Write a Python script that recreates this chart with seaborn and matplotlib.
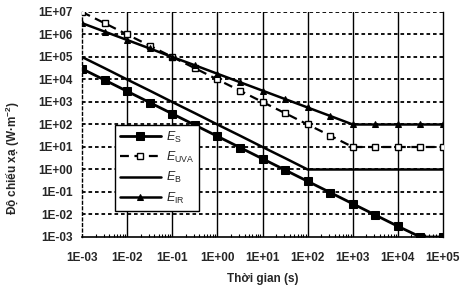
import numpy as np
import pandas as pd
import matplotlib
matplotlib.use("Agg")
import matplotlib.pyplot as plt
import seaborn as sns

# Data (time in s, irradiance in W/m^2)
time_s = [1e-3, 3.16e-3, 1e-2, 3.16e-2, 1e-1, 3.16e-1, 1e0, 3.16e0, 1e1, 3.16e1,
          1e2, 3.16e2, 1e3, 3.16e3, 1e4, 3.16e4, 1e5]
E_S = [3e4, 9.5e3, 3e3, 950, 300, 95, 30, 9.5, 3, 0.95,
       0.3, 0.095, 0.03, 0.0095, 0.003, 0.001, 0.001]
E_UVA = [1e7, 3.2e6, 1e6, 3.2e5, 1e5, 3.2e4, 1e4, 3.2e3, 1e3, 320,
         100, 32, 10, 10, 10, 10, 10]
E_B = [1e5, 3.2e4, 1e4, 3.2e3, 1e3, 320, 100, 32, 10, 3.2,
       1, 1, 1, 1, 1, 1, 1]
E_IR = [3.2e6, 1.35e6, 5.7e5, 2.4e5, 1e5, 4.3e4, 1.8e4, 7.6e3, 3.2e3, 1.35e3,
        570, 240, 100, 100, 100, 100, 100]

x_ticks = [1e-3, 1e-2, 1e-1, 1e0, 1e1, 1e2, 1e3, 1e4, 1e5]
x_tick_labels = ["1E-03", "1E-02", "1E-01", "1E+00", "1E+01", "1E+02", "1E+03", "1E+04", "1E+05"]
y_ticks = [1e-3, 1e-2, 1e-1, 1e0, 1e1, 1e2, 1e3, 1e4, 1e5, 1e6, 1e7]
y_tick_labels = ["1E-03", "1E-02", "1E-01", "1E+00", "1E+01", "1E+02", "1E+03",
                 "1E+04", "1E+05", "1E+06", "1E+07"]

sns.set_theme(style="white")
plt.rcParams['font.family'] = ['Liberation Sans', 'DejaVu Sans']
plt.rcParams['mathtext.fontset'] = 'custom'
plt.rcParams['mathtext.it'] = 'Liberation Sans:italic'
plt.rcParams['mathtext.rm'] = 'Liberation Sans'
plt.rcParams['mathtext.bf'] = 'Liberation Sans:bold'

fig = plt.figure(figsize=(4.72, 2.88), dpi=100)
ax = fig.add_axes([82/472, 1-237/288, (443-82)/472, (237-12)/288])

df = pd.DataFrame({"t": time_s, "ES": E_S, "EUVA": E_UVA, "EB": E_B, "EIR": E_IR})

sns.lineplot(data=df, x="t", y="ES", ax=ax, color="black", lw=2.0, marker="s",
             markersize=5.5, markerfacecolor="black", markeredgecolor="black",
             label=r"$E_\mathrm{S}$", zorder=5)
sns.lineplot(data=df, x="t", y="EUVA", ax=ax, color="black", lw=1.6, marker="s",
             markersize=5, markerfacecolor="white", markeredgecolor="black",
             markeredgewidth=1.0, dashes=(4, 2.5), label=r"$E_\mathrm{UVA}$", zorder=5)
sns.lineplot(data=df, x="t", y="EB", ax=ax, color="black", lw=1.8,
             label=r"$E_\mathrm{B}$", zorder=5)
sns.lineplot(data=df, x="t", y="EIR", ax=ax, color="black", lw=1.8, marker="^",
             markersize=5, markerfacecolor="black", markeredgecolor="black",
             label=r"$E_\mathrm{IR}$", zorder=5)

ax.set_xscale("log")
ax.set_yscale("log")
ax.set_xlim(1e-3, 1e5)
ax.set_ylim(1e-3, 1e7)

# grid: solid verticals, dashed horizontals
for xv in x_ticks[1:-1]:
    ax.axvline(xv, color="black", lw=1.0, zorder=1)
for yv in y_ticks[1:]:
    ax.axhline(yv, color="black", lw=1.3, ls=(0, (2, 1.6)), zorder=1)

ax.set_xticks(x_ticks)
ax.set_xticklabels(x_tick_labels)
ax.set_yticks(y_ticks)
ax.set_yticklabels(y_tick_labels)
ax.yaxis.set_minor_locator(matplotlib.ticker.NullLocator())
ax.xaxis.set_minor_locator(matplotlib.ticker.LogLocator(base=10, subs=np.arange(2, 10)))
ax.tick_params(axis="x", which="major", length=0, labelsize=8.5, pad=11)
ax.tick_params(axis="x", which="minor", direction="in", length=2.5, width=0.8,
               bottom=True, color="black")
ax.tick_params(axis="y", which="major", length=0, labelsize=8.5, pad=6.5)
for lab in ax.get_xticklabels() + ax.get_yticklabels():
    lab.set_fontweight("bold")

ax.spines["top"].set_visible(False)
ax.spines["left"].set_linestyle((0, (2, 2)))
ax.spines["left"].set_color("black")
ax.spines["left"].set_linewidth(1.0)
ax.spines["bottom"].set_color("black")
ax.spines["bottom"].set_linewidth(1.2)
ax.spines["right"].set_color("black")
ax.spines["right"].set_linewidth(1.0)

ax.set_xlabel("Thời gian (s)", fontsize=8.5, fontweight="bold")
ax.set_ylabel(r"Độ chiếu xạ (W·m$^{\mathbf{-2}}$)", fontsize=8.5, fontweight="bold")
ax.xaxis.set_label_coords(0.5, -0.16)
ax.yaxis.set_label_coords(-0.165, 0.35)

leg = ax.legend(loc="upper left", bbox_to_anchor=(0.091, 0.5), frameon=True,
                fancybox=False, edgecolor="black", framealpha=1, fontsize=9,
                handlelength=3.3, labelspacing=0.42, borderpad=0.4,
                handletextpad=0.4, borderaxespad=0)
leg.get_frame().set_linewidth(1.0)
leg.set_zorder(10)

fig.savefig("out.png", dpi=100, facecolor="white")
